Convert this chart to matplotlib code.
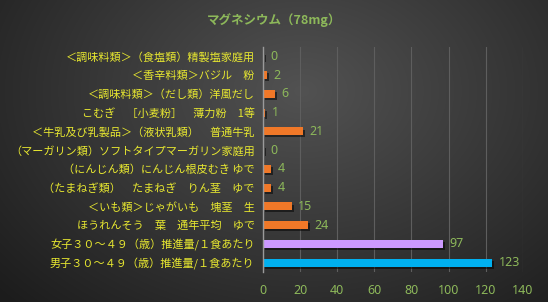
import numpy as np
import matplotlib
matplotlib.use("Agg")
import matplotlib.pyplot as plt
import matplotlib.patheffects as pe

plt.rcParams['font.family'] = ['Noto Sans CJK JP', 'DejaVu Sans']

title = "マグネシウム（78mg）"
categories = [
    "＜調味料類＞（食塩類）精製塩家庭用",
    "＜香辛料類＞バジル　粉",
    "＜調味料類＞（だし類）洋風だし",
    "こむぎ　［小麦粉］　薄力粉　1等",
    "＜牛乳及び乳製品＞（液状乳類）　普通牛乳",
    "（マーガリン類）ソフトタイプマーガリン家庭用",
    "（にんじん類）にんじん根皮むき ゆで",
    "（たまねぎ類）　たまねぎ　りん茎　ゆで",
    "＜いも類＞じゃがいも　塊茎　生",
    "ほうれんそう　葉　通年平均　ゆで",
    "女子３０～４９（歳）推進量/１食あたり",
    "男子３０～４９（歳）推進量/１食あたり",
]
values = [0.3, 2.3, 6.4, 1.2, 21.4, 0.3, 4.3, 4.4, 15.4, 24.3, 97.0, 123.4]
bar_colors = ["#F07828"] * 10 + ["#CC99FF", "#00B0F0"]
xticks = [0, 20, 40, 60, 80, 100, 120, 140]

W, H = 548, 302
fig = plt.figure(figsize=(W / 100, H / 100), dpi=100)

# background gradient
bg = fig.add_axes([0, 0, 1, 1], zorder=-10)
yy, xx = np.mgrid[0:H, 0:W]
cx, cy = W * 0.55, H * 0.30
r = np.sqrt(((xx - cx) / (W * 0.75)) ** 2 + ((yy - cy) / (H * 1.0)) ** 2)
r = np.clip(r, 0, 1)
light = np.array([0x52, 0x52, 0x52]) / 255
dark = np.array([0x1c, 0x1c, 0x1c]) / 255
img = light[None, None, :] * (1 - r[..., None]) + dark[None, None, :] * r[..., None]
bg.imshow(img, aspect='auto', extent=[0, 1, 0, 1])
bg.axis('off')

ax = fig.add_axes([263 / W, 1 - 272 / H, (522.7 - 263) / W, (272 - 47) / H])
ax.patch.set_alpha(0)
n = len(categories)
ypos = np.arange(n)[::-1]
bars = ax.barh(ypos, values, height=0.42, color=bar_colors, zorder=3,
               path_effects=[pe.SimplePatchShadow(offset=(1.5, -1.5), shadow_rgbFace='black', alpha=0.5), pe.Normal()])
ax.set_xlim(0, 140)
ax.set_ylim(-0.5, n - 0.5)
ax.set_xticks(xticks)
ax.set_yticks(ypos)
ax.set_yticklabels(categories, fontsize=8, color="#E8E830")
ax.tick_params(axis='y', length=0, pad=6)
ax.tick_params(axis='x', length=0, pad=9, labelsize=9, labelcolor="#8DB85A")
for t in ax.get_xticklabels():
    t.set_fontfamily(['Noto Sans', 'DejaVu Sans'])
ax.grid(axis='x', color="#5E5E5E", linewidth=0.8, zorder=0)
ax.grid(axis='y', visible=False)
for s in ['top', 'right', 'bottom']:
    ax.spines[s].set_visible(False)
ax.spines['left'].set_color("#9A9A9A")
ax.spines['left'].set_linewidth(1.0)
ax.spines['left'].set_zorder(4)

for y, v in zip(ypos, values):
    ax.text(v + 3.5, y, f"{v:.0f}", va='center', ha='left', fontsize=9,
            color="#8DB85A", family=['Noto Sans', 'DejaVu Sans'])

fig.text(274 / W, 1 - 20 / H, title, ha='center', va='center', fontsize=9,
         color="#8DB85A", fontweight='bold')

fig.savefig("out.png", dpi=100, facecolor="#2a2a2a")
